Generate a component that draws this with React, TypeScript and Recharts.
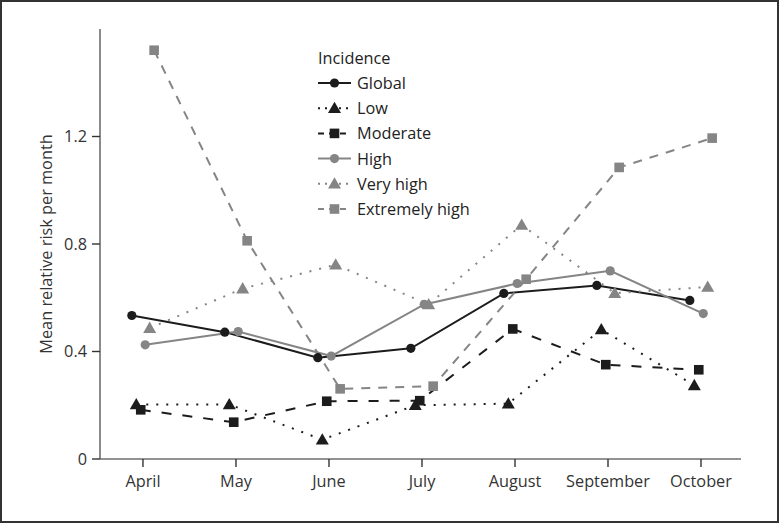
import React from 'react';
import { LineChart, Line, XAxis, YAxis, Legend } from 'recharts';

const MONTHS = ['April', 'May', 'June', 'July', 'August', 'September', 'October'];
const Y_TICKS = [0, 0.4, 0.8, 1.2];

const GLOBAL = [0.534, 0.472, 0.377, 0.412, 0.616, 0.646, 0.59];
const LOW = [0.203, 0.203, 0.072, 0.2, 0.206, 0.482, 0.274];
const MODERATE = [0.183, 0.137, 0.215, 0.217, 0.484, 0.351, 0.332];
const HIGH = [0.425, 0.474, 0.383, 0.575, 0.653, 0.7, 0.541];
const VERY_HIGH = [0.487, 0.634, 0.723, 0.575, 0.871, 0.617, 0.64];
const EXTREMELY_HIGH = [1.521, 0.812, 0.261, 0.271, 0.669, 1.085, 1.194];

const BLACK = '#1c1c1c';
const GRAY = '#858585';
const FONT = '"Open Sans", "Noto Sans", sans-serif';

type Shape = 'circle' | 'triangle' | 'square';

const SERIES: { name: string; values: number[]; color: string; dash?: string; shape: Shape }[] = [
  { name: 'Global', values: GLOBAL, color: BLACK, shape: 'circle' },
  { name: 'Low', values: LOW, color: BLACK, dash: '2 8', shape: 'triangle' },
  { name: 'Moderate', values: MODERATE, color: BLACK, dash: '10 11', shape: 'square' },
  { name: 'High', values: HIGH, color: GRAY, shape: 'circle' },
  { name: 'Very high', values: VERY_HIGH, color: GRAY, dash: '2 8', shape: 'triangle' },
  { name: 'Extremely high', values: EXTREMELY_HIGH, color: GRAY, dash: '9 8', shape: 'square' },
];

// points are dodged sideways around each month tick
const DODGE = 0.048;

function Marker({ cx, cy, shape, color }: { cx: number; cy: number; shape: Shape; color: string }) {
  if (cx == null || cy == null) return null;
  if (shape === 'circle') return <circle cx={cx} cy={cy} r={4.6} fill={color} stroke="none" />;
  if (shape === 'square')
    return <rect x={cx - 4.8} y={cy - 4.8} width={9.6} height={9.6} fill={color} stroke="none" />;
  return (
    <path
      d={`M${cx},${cy - 6.5} L${cx + 6.5},${cy + 4.8} L${cx - 6.5},${cy + 4.8} Z`}
      fill={color}
      stroke="none"
    />
  );
}

function LegendBox() {
  return (
    <svg width={200} height={185} style={{ display: 'block' }}>
      <text x={3} y={24} fontSize={16.3} fill="#222" fontFamily={FONT}>
        Incidence
      </text>
      {SERIES.map((s, i) => {
        const y = 43 + i * 25.2;
        return (
          <g key={s.name}>
            <line x1={3} x2={36} y1={y} y2={y} stroke={s.color} strokeWidth={2} strokeDasharray={s.dash ? (s.dash === '2 8' ? '2 5' : '6 5') : undefined} />
            <Marker cx={19.5} cy={y} shape={s.shape} color={s.color} />
            <text x={42} y={y + 6} fontSize={16.3} fill="#222" fontFamily={FONT}>
              {s.name}
            </text>
          </g>
        );
      })}
    </svg>
  );
}

export default function App() {
  return (
    <div style={{ position: 'absolute', left: 0, top: 0, width: 779, height: 523, background: '#fff' }}>
      <LineChart width={779} height={523} margin={{ top: 29, right: 38, bottom: 34, left: 0 }}>
        <XAxis
          type="number"
          dataKey="x"
          domain={[-0.462, 6.43]}
          ticks={MONTHS.map((_, i) => i)}
          tickFormatter={(v: number) => MONTHS[v]}
          allowDataOverflow
          height={30}
          stroke="#6e6e6e"
          strokeWidth={1.6}
          tickSize={8}
          tickLine={{ stroke: '#333', strokeWidth: 1.4 }}
          tick={{ fill: '#333', fontSize: 16.3, fontFamily: FONT, dy: 6 }}
        />
        <YAxis
          type="number"
          domain={[0, 1.6]}
          ticks={Y_TICKS}
          allowDataOverflow
          width={100}
          stroke="#6e6e6e"
          strokeWidth={1.6}
          tickSize={8}
          tickFormatter={(v: number) => String(v)}
          tickLine={{ stroke: '#333', strokeWidth: 1.4 }}
          tick={{ fill: '#333', fontSize: 16.3, fontFamily: FONT, dx: -3 }}
          label={{
            value: 'Mean relative risk per month',
            angle: -90,
            position: 'insideLeft',
            offset: 46,
            style: { textAnchor: 'middle', fill: '#333', fontSize: 16.3, fontFamily: FONT },
          }}
        />
        <Legend
          content={() => <LegendBox />}
          layout="vertical"
          align="center"
          verticalAlign="middle"
          wrapperStyle={{ left: 315, top: 40, width: 200 }}
        />
        {SERIES.map((s, k) => (
          <Line
            key={s.name}
            name={s.name}
            data={s.values.map((v, i) => ({ x: i + (k - 2.5) * DODGE, y: v }))}
            dataKey="y"
            type="linear"
            stroke={s.color}
            strokeWidth={2}
            strokeDasharray={s.dash}
            dot={(p: any) => <Marker key={`${s.name}-${p.index}`} cx={p.cx} cy={p.cy} shape={s.shape} color={s.color} />}
            activeDot={false}
            isAnimationActive={false}
          />
        ))}
      </LineChart>
      <div
        style={{
          position: 'absolute',
          inset: 0,
          border: '2px solid #333',
          pointerEvents: 'none',
        }}
      />
    </div>
  );
}
